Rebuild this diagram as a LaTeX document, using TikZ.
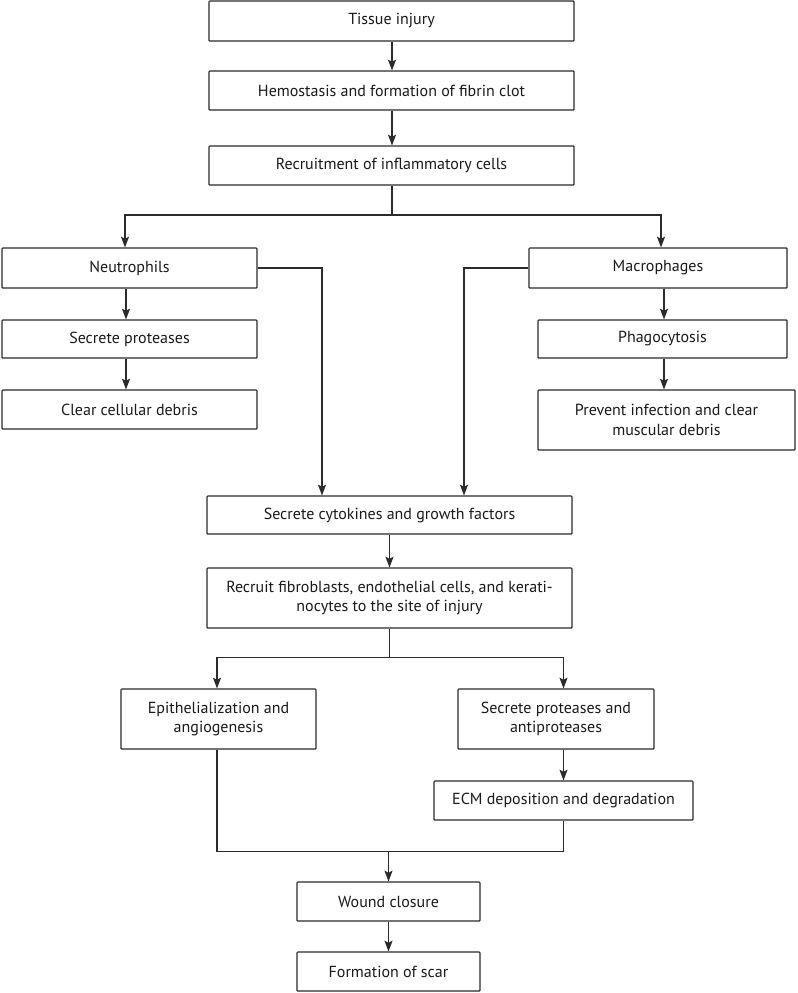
\documentclass[tikz,border=0pt]{standalone}
\usepackage{fontspec}
\setmainfont{PT Sans}
\usetikzlibrary{arrows.meta}
\definecolor{ln}{HTML}{2B2B2B}
\definecolor{tx}{HTML}{1A1A1A}
\begin{document}
\begin{tikzpicture}[x=0.75pt,y=-0.75pt,
  box/.style={draw=ln, line width=0.85pt, rounded corners=0.6pt, align=center, inner sep=0pt,
    text=tx, font=\fontsize{12}{14.5}\selectfont},
  link/.style={draw=ln, line width=0.85pt},
  arr/.style={link, -{Stealth[length=8pt,width=6pt,inset=1.5pt]}}]
\useasboundingbox[fill=white] (0,0) rectangle (797,993);
% top chain
\node[box, minimum width={365*0.75pt}, minimum height={40*0.75pt}] (tis) at (391.5,21) {Tissue injury};
\node[box, minimum width={365*0.75pt}, minimum height={39*0.75pt}] (hem) at (391.5,90.5) {Hemostasis and formation of fibrin clot};
\node[box, minimum width={365*0.75pt}, minimum height={39*0.75pt}] (rec) at (391.5,165.5) {Recruitment of inflammatory cells};
% left column
\node[box, minimum width={255*0.75pt}, minimum height={40*0.75pt}] (neu) at (129.5,268) {Neutrophils};
\node[box, minimum width={255*0.75pt}, minimum height={38*0.75pt}] (spr) at (129.5,339) {Secrete proteases};
\node[box, minimum width={255*0.75pt}, minimum height={39*0.75pt}] (ccd) at (129.5,409.5) {Clear cellular debris};
% right column
\node[box, minimum width={258*0.75pt}, minimum height={40*0.75pt}] (mac) at (658,268) {Macrophages};
\node[box, minimum width={249*0.75pt}, minimum height={38*0.75pt}] (pha) at (662.5,339) {Phagocytosis};
\node[box, minimum width={257*0.75pt}, minimum height={60*0.75pt}] (pre) at (666.5,420) {Prevent infection and clear\\muscular debris};
% middle
\node[box, minimum width={365*0.75pt}, minimum height={38*0.75pt}] (cyt) at (389.5,515) {Secrete cytokines and growth factors};
\node[box, minimum width={365*0.75pt}, minimum height={60*0.75pt}] (fib) at (389.5,598) {Recruit fibroblasts, endothelial cells, and kerati-\\nocytes to the site of injury};
\node[box, minimum width={195*0.75pt}, minimum height={60*0.75pt}] (epi) at (218.5,719) {Epithelialization and\\angiogenesis};
\node[box, minimum width={196*0.75pt}, minimum height={60*0.75pt}] (spa) at (556,719) {Secrete proteases and\\antiproteases};
\node[box, minimum width={259*0.75pt}, minimum height={39*0.75pt}] (ecm) at (563.5,800.5) {ECM deposition and degradation};
\node[box, minimum width={183*0.75pt}, minimum height={39*0.75pt}] (wou) at (388.5,901.5) {Wound closure};
\node[box, minimum width={183*0.75pt}, minimum height={39*0.75pt}] (sca) at (388.5,971.5) {Formation of scar};
% junction coordinates
\coordinate (j1) at (392,215);
\path (fib.south) ++(0,29) coordinate (j2);
\path (wou.north) ++(0,-30) coordinate (j3);
% connectors
\draw[arr] (tis.south -| j1) -- (hem.north -| j1);
\draw[arr] (hem.south -| j1) -- (rec.north -| j1);
\draw[link] (rec.south -| j1) -- (j1);
\draw[arr] (j1) -| ([xshift=-4.5*0.75pt]neu.north);
\draw[arr] (j1) -| ([xshift=3*0.75pt]mac.north);
\draw[arr] ([xshift=-3.5*0.75pt]neu.south) -- ([xshift=-3.5*0.75pt]spr.north);
\draw[arr] ([xshift=-3.5*0.75pt]spr.south) -- ([xshift=-3.5*0.75pt]ccd.north);
\draw[arr] ([xshift=1.5*0.75pt]pha.north |- mac.south) -- ([xshift=1.5*0.75pt]pha.north);
\draw[arr] ([xshift=1.5*0.75pt]pha.south) -- ([xshift=1.5*0.75pt]pha.south |- pre.north);
\draw[arr] (neu.east) -| ([xshift=-67.5*0.75pt]cyt.north);
\draw[arr] (mac.west) -| ([xshift=74.5*0.75pt]cyt.north);
\draw[arr] (cyt.south) -- (fib.north);
\draw[link] (fib.south) -- (j2);
\draw[arr] (j2) -| ([xshift=-1.5*0.75pt]epi.north);
\draw[arr] (j2) -| (ecm.north |- spa.north);
\draw[arr] (ecm.north |- spa.south) -- (ecm.north);
\draw[link] ([xshift=-1.5*0.75pt]epi.south) |- (j3);
\draw[link] (ecm.south) |- (j3);
\draw[arr] (j3) -- (wou.north);
\draw[arr] (wou.south) -- (sca.north);
\end{tikzpicture}
\end{document}
